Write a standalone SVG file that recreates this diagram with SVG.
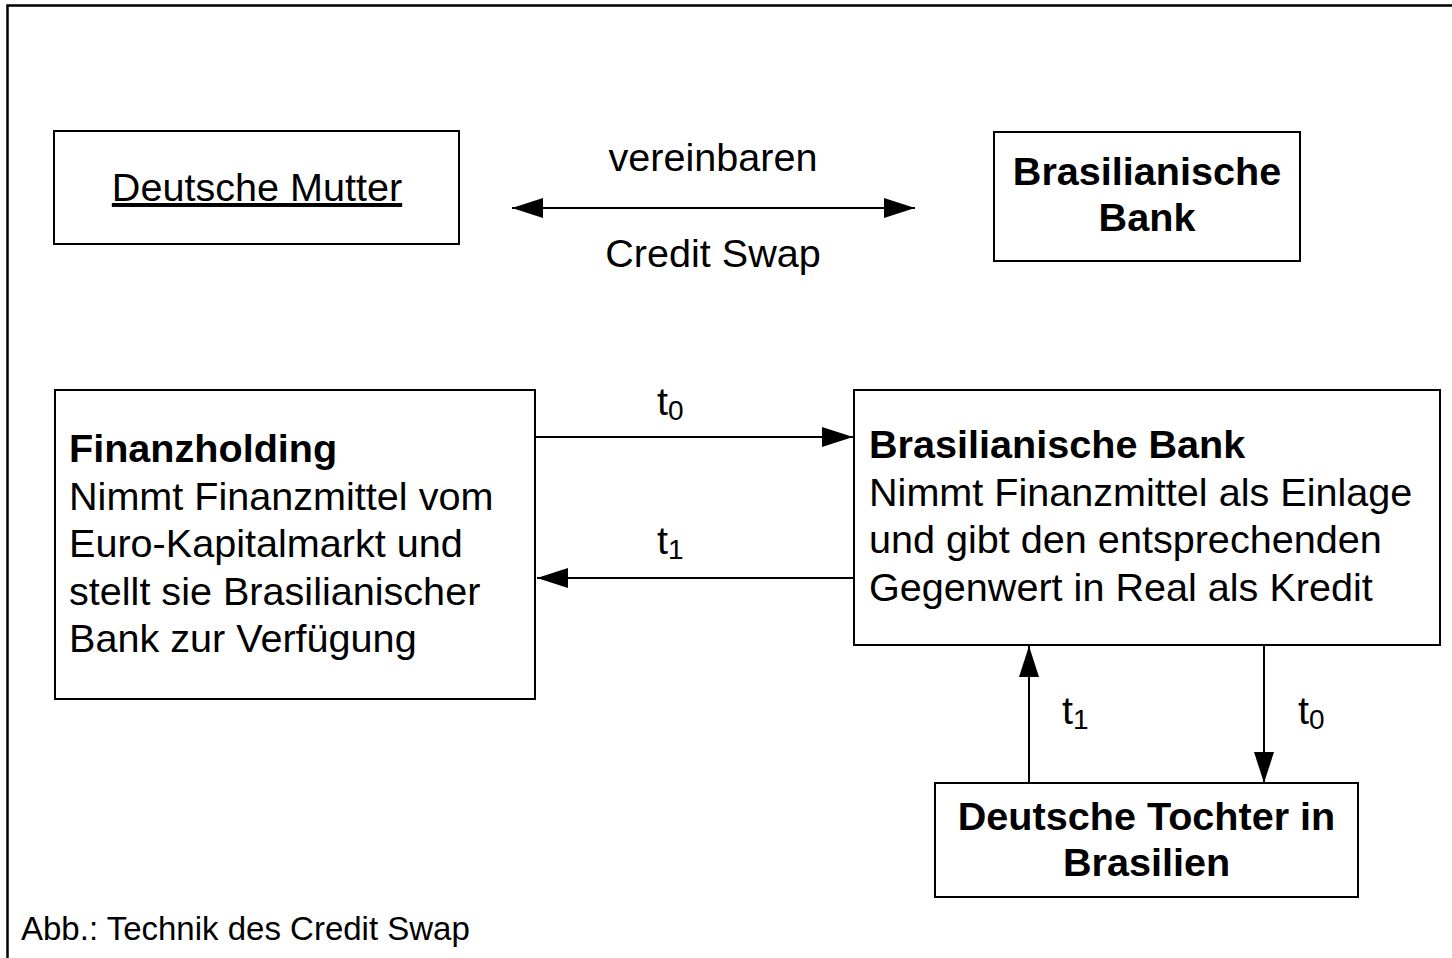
<svg xmlns="http://www.w3.org/2000/svg" width="1452" height="958" viewBox="0 0 1452 958">
  <style>
    .box { fill: #ffffff; stroke: #000000; stroke-width: 2; }
    .frame { fill: none; stroke: #000000; stroke-width: 2.5; }
    .edge { fill: none; stroke: #000000; stroke-width: 2; }
    .txt { font-family: "Liberation Sans", Arial, sans-serif; font-size: 39.6px; fill: #000000; }
    .b { font-weight: bold; }
    .mid { text-anchor: middle; }
    .sub { font-size: 28px; }
    .cap { font-family: "Liberation Sans", Arial, sans-serif; font-size: 33px; fill: #000000; }
  </style>
  <defs>
    <marker id="arrow" markerUnits="userSpaceOnUse" markerWidth="32" markerHeight="22" refX="31" refY="10" orient="auto-start-reverse">
      <path d="M0,0 L31,10 L0,20 Z" fill="#000000"/>
    </marker>
  </defs>

  <rect width="1452" height="958" fill="#ffffff"/>
  <!-- outer frame, running off the right and bottom edges -->
  <rect class="frame" x="7.5" y="5.5" width="1470" height="980"/>

  <g id="connectors">
    <line class="edge" x1="512" y1="208" x2="915" y2="208" marker-start="url(#arrow)" marker-end="url(#arrow)"/>
    <line class="edge" x1="535" y1="437" x2="853" y2="437" marker-end="url(#arrow)"/>
    <line class="edge" x1="853" y1="578" x2="537" y2="578" marker-end="url(#arrow)"/>
    <line class="edge" x1="1029" y1="783" x2="1029" y2="646" marker-end="url(#arrow)"/>
    <line class="edge" x1="1264" y1="645" x2="1264" y2="783" marker-end="url(#arrow)"/>
    <text class="txt mid" x="713" y="171">vereinbaren</text>
    <text class="txt mid" x="713" y="267">Credit Swap</text>
    <text class="txt" x="657" y="415">t<tspan class="sub" dy="5">0</tspan></text>
    <text class="txt" x="657" y="554">t<tspan class="sub" dy="5">1</tspan></text>
    <text class="txt" x="1062" y="724">t<tspan class="sub" dy="5">1</tspan></text>
    <text class="txt" x="1298" y="724">t<tspan class="sub" dy="5">0</tspan></text>
  </g>

  <g id="deutsche-mutter">
    <rect class="box" x="54" y="131" width="405" height="113"/>
    <text class="txt mid" x="257" y="201" text-decoration="underline">Deutsche Mutter</text>
  </g>

  <g id="brasilianische-bank-oben">
    <rect class="box" x="994" y="132" width="306" height="129"/>
    <text class="txt b mid" x="1147" y="185">Brasilianische</text>
    <text class="txt b mid" x="1147" y="231">Bank</text>
  </g>

  <g id="finanzholding">
    <rect class="box" x="55" y="390" width="480" height="309"/>
    <text class="txt b" x="69" y="462">Finanzholding</text>
    <text class="txt" x="69" y="509.5">Nimmt Finanzmittel vom</text>
    <text class="txt" x="69" y="557">Euro-Kapitalmarkt und</text>
    <text class="txt" x="69" y="604.5">stellt sie Brasilianischer</text>
    <text class="txt" x="69" y="652">Bank zur Verfügung</text>
  </g>

  <g id="brasilianische-bank">
    <rect class="box" x="854" y="390" width="586" height="255"/>
    <text class="txt b" x="869" y="458">Brasilianische Bank</text>
    <text class="txt" x="869" y="505.5">Nimmt Finanzmittel als Einlage</text>
    <text class="txt" x="869" y="553">und gibt den entsprechenden</text>
    <text class="txt" x="869" y="600.5">Gegenwert in Real als Kredit</text>
  </g>

  <g id="deutsche-tochter">
    <rect class="box" x="935" y="783" width="423" height="114"/>
    <text class="txt b mid" x="1146.5" y="830">Deutsche Tochter in</text>
    <text class="txt b mid" x="1146.5" y="876">Brasilien</text>
  </g>

  <text class="cap" x="21" y="940">Abb.: Technik des Credit Swap</text>
</svg>
